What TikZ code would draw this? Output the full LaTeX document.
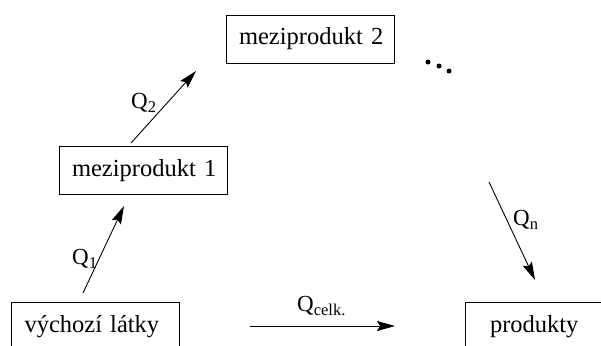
\documentclass[tikz,border=0pt]{standalone}
\usepackage{fontspec}
\setmainfont{Liberation Serif}
\usetikzlibrary{arrows.meta}
\newcommand{\Qsub}[1]{Q\raisebox{-4pt}{\fontsize{16.5}{19}\selectfont #1}}
\begin{document}
\begin{tikzpicture}[x=1pt,y=-1pt,
  box/.style={draw,line width=0.9pt,minimum height=48pt,text width=142pt,inner xsep=13pt,
    align=left,text height=17.5pt,text depth=5.5pt,font=\fontsize{24.5}{28}\selectfont},
  qlabel/.style={anchor=base west,inner sep=0pt,font=\fontsize{23}{27}\selectfont},
  flow/.style={line width=0.9pt,-{Stealth[length=18pt,width=10pt,inset=3pt]}},
  dot/.style={fill=black,circle,inner sep=0pt,minimum size=5pt}]
\useasboundingbox (0,0) rectangle (601,345);
\clip (0,0) rectangle (601,345);
\node[box] (v) at (95.5,326) {\mbox{výchozí látky}};
\node[box] (m1) at (143,170.5) {\mbox{meziprodukt 1}};
\node[box] (m2) at (310,39) {\mbox{meziprodukt 2}};
\node[box,text width=118pt,inner xsep=25pt] (p) at (549,326) {\mbox{produkty}};
\coordinate (a1s) at (83,293); \coordinate (a1e) at (124,206);
\coordinate (a2s) at (131,143); \coordinate (a2e) at (196,71);
\coordinate (ans) at (489,182); \coordinate (ane) at (535,280);
\coordinate (acs) at (250,326); \coordinate (ace) at (395,326);
\draw[flow] (a1s) -- (a1e);
\draw[flow] (a2s) -- (a2e);
\draw[flow] (ans) -- (ane);
\draw[flow] (acs) -- (ace);
\node[qlabel] (q1) at (72,264) {\Qsub{1}};
\node[qlabel] (q2) at (131,108) {\Qsub{2}};
\node[qlabel] (qn) at (513,225) {\Qsub{n}};
\node[qlabel] (qc) at (297,311) {\Qsub{celk.}};
\node[dot] (d1) at (428,62) {};
\node[dot] (d2) at (439,66) {};
\node[dot] (d3) at (449,71) {};
\end{tikzpicture}
\end{document}
